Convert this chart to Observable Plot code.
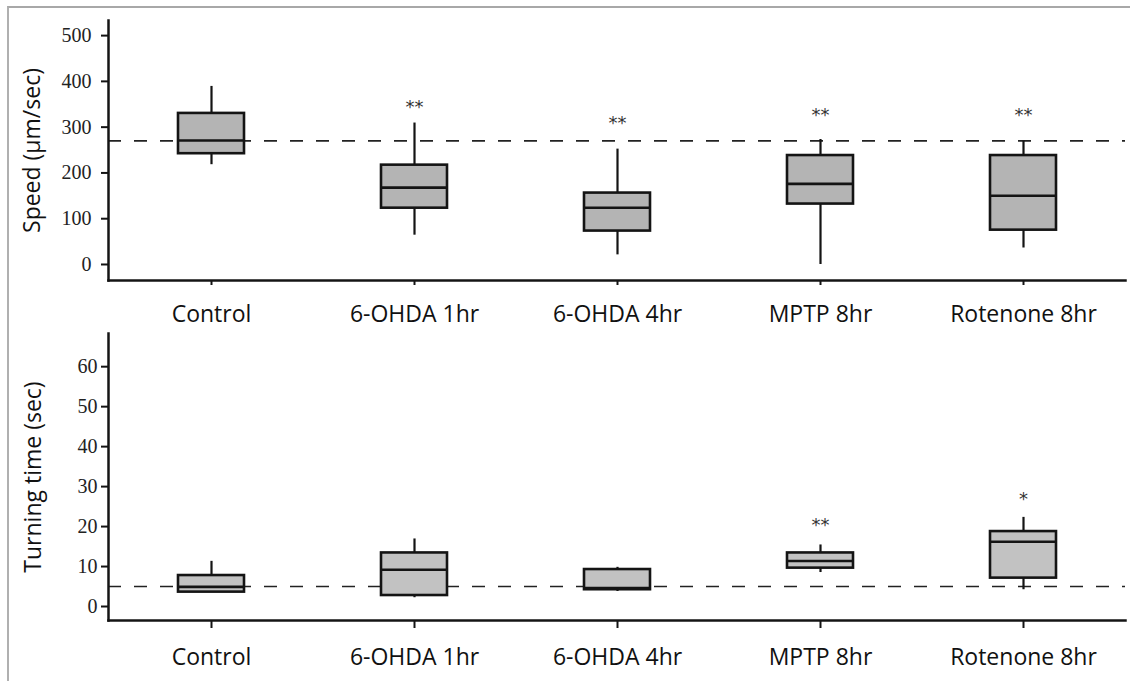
<!DOCTYPE html>
<html><head><meta charset="utf-8">
<script src="https://cdn.jsdelivr.net/npm/d3@7"></script>
<script src="https://cdn.jsdelivr.net/npm/@observablehq/plot@0.6"></script>
<style>
body{margin:0;background:#fff;}
#wrap{position:relative;width:1130px;height:681px;overflow:hidden;background:#fff;}
#border{position:absolute;left:7px;top:6px;right:-4px;bottom:-4px;border-top:2px solid #a8a8a8;border-left:2px solid #b0b0b0;}
#top{position:absolute;left:0;top:0;}
#bottom{position:absolute;left:0;top:330px;}
</style></head><body><div id="wrap"><div id="border"></div><div id="top"></div><div id="bottom"></div></div>
<script>
const categories = ["Control", "6-OHDA 1hr", "6-OHDA 4hr", "MPTP 8hr", "Rotenone 8hr"];

// Speed (µm/sec)
const speedMin    = [218, 64, 21, 0, 36];
const speedQ1     = [242, 123, 73, 132, 75];
const speedMedian = [271, 168, 124, 176, 150];
const speedQ3     = [330, 217, 156, 238, 238];
const speedMax    = [389, 309, 252, 273, 269];
const speedStars  = ["", "**", "**", "**", "**"];
const speedStarY  = [null, 343, 309, 327, 327];
const speedBaseline = 270;
const speedTicks = [0, 100, 200, 300, 400, 500];

// Turning time (sec)
const turnMin    = [3.6, 2.2, 3.75, 8.5, 4.2];
const turnQ1     = [3.6, 2.75, 4.2, 9.6, 7.1];
const turnMedian = [4.9, 9.2, 4.6, 11.4, 16.2];
const turnQ3     = [7.75, 13.4, 9.25, 13.4, 18.75];
const turnMax    = [11.3, 16.9, 9.8, 15.4, 22.3];
const turnStars  = ["", "", "", "**", "*"];
const turnStarY  = [null, null, null, 20.3, 26.75];
const turnBaseline = 5;
const turnTicks = [0, 10, 20, 30, 40, 50, 60];

function panel(p) {
  const rows = categories.map((c, i) => ({
    cat: c, min: p.min[i], q1: p.q1[i], med: p.med[i], q3: p.q3[i], max: p.max[i],
    star: p.stars[i], starY: p.starY[i]
  }));
  const ink = "#141414";
  return Plot.plot({
    width: 1130, height: p.height,
    marginLeft: 108, marginRight: 5, marginTop: p.marginTop, marginBottom: p.marginBottom,
    x: {type: "band", domain: categories, paddingInner: 0.675, paddingOuter: 0.3375},
    y: {domain: p.yDomain},
    style: {background: "transparent", overflow: "visible"},
    marks: [
      Plot.ruleY([p.baseline], {stroke: "#222", strokeWidth: 1.6, strokeDasharray: "13,13"}),
      Plot.ruleX(rows, {x: "cat", y1: "min", y2: "q1", stroke: ink, strokeWidth: 2.2}),
      Plot.ruleX(rows, {x: "cat", y1: "q3", y2: "max", stroke: ink, strokeWidth: 2.2}),
      Plot.barY(rows, {x: "cat", y1: "q1", y2: "q3", fill: p.fill, stroke: ink, strokeWidth: 2.6}),
      Plot.tickY(rows, {x: "cat", y: "med", stroke: ink, strokeWidth: 2.6}),
      Plot.text(rows.filter(d => d.star), {x: "cat", y: "starY", text: "star", fontSize: 18, fontFamily: "DejaVu Sans", fill: "#333"}),
      Plot.frame({anchor: "left", stroke: ink, strokeWidth: 2.5}),
      Plot.frame({anchor: "bottom", stroke: ink, strokeWidth: 2.5}),
      Plot.axisY({ticks: p.yTicks, tickSize: 7, tickPadding: p.yPad, tickFormat: d => String(d),
        fontSize: 20, fontFamily: "Liberation Serif", fill: "#222", stroke: ink, strokeWidth: 2, label: null}),
      Plot.axisX({tickSize: p.xTick, tickPadding: 20, fontSize: 23, fontFamily: "Open Sans", fill: "#111",
        stroke: ink, strokeWidth: 2, label: null}),
      Plot.text([p.label], {text: d => d, frameAnchor: "left", textAnchor: "middle", rotate: -90, dx: p.labelDx,
        fontSize: 23, fontFamily: "Open Sans", fill: "#111"})
    ]
  });
}

document.getElementById("top").append(panel({
  min: speedMin, q1: speedQ1, med: speedMedian, q3: speedQ3, max: speedMax,
  stars: speedStars, starY: speedStarY, baseline: speedBaseline, yTicks: speedTicks,
  yDomain: [-35, 533], height: 330, marginTop: 20, marginBottom: 50,
  fill: "#b4b4b4", xTick: 5, yPad: 10, label: "Speed (µm/sec)", labelDx: -76
}));

document.getElementById("bottom").append(panel({
  min: turnMin, q1: turnQ1, med: turnMedian, q3: turnQ3, max: turnMax,
  stars: turnStars, starY: turnStarY, baseline: turnBaseline, yTicks: turnTicks,
  yDomain: [-3.5, 68.3], height: 351, marginTop: 3, marginBottom: 61,
  fill: "#c2c2c2", xTick: 8, yPad: 4, label: "Turning time (sec)", labelDx: -75
}));
</script>
</body></html>
